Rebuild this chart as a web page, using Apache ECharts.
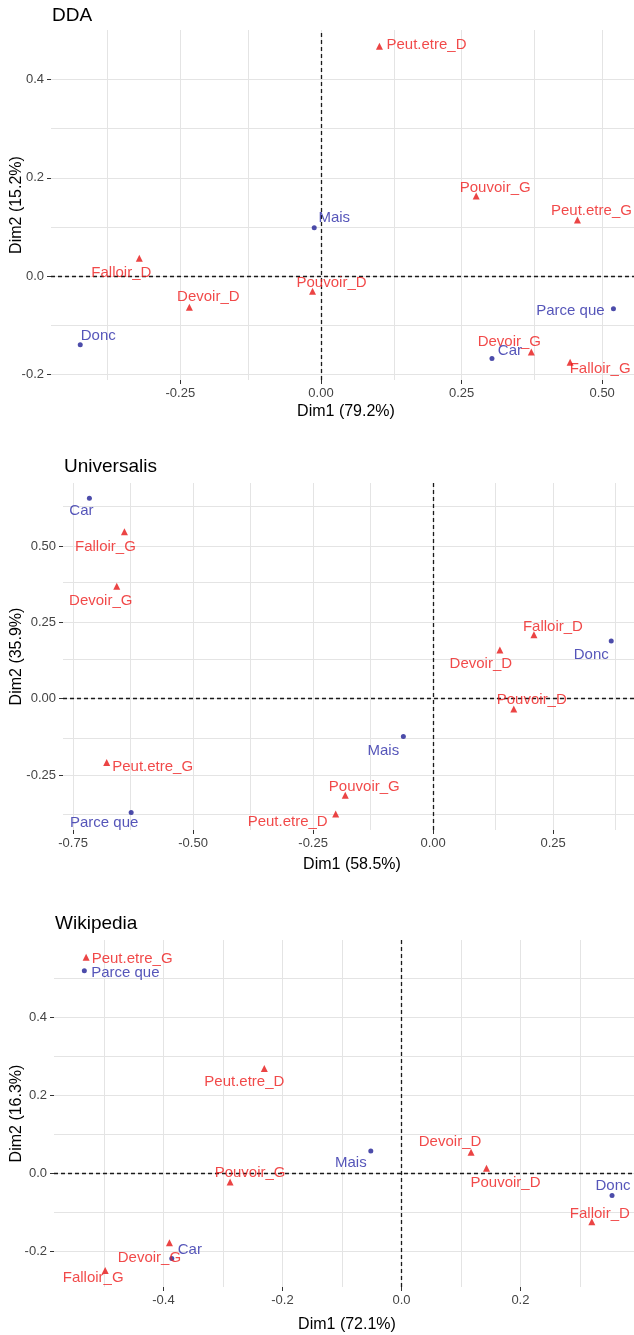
<!DOCTYPE html>
<html><head><meta charset="utf-8">
<script src="https://cdn.jsdelivr.net/npm/echarts@6/dist/echarts.min.js"></script>
<style>html,body{margin:0;padding:0;overflow:hidden;background:#fff;}#c{width:641px;height:1335px;}</style>
</head><body><div id="c"></div>
<script>
// ---------- DDA ----------
const ddaRowNames = ['Car', 'Donc', 'Mais', 'Parce que'];
const ddaRowX = [0.304, -0.428, -0.012, 0.520];
const ddaRowY = [-0.168, -0.140, 0.098, -0.067];
const ddaColNames = ['Devoir_D', 'Devoir_G', 'Falloir_D', 'Falloir_G', 'Peut.etre_D', 'Peut.etre_G', 'Pouvoir_D', 'Pouvoir_G'];
const ddaColX = [-0.234, 0.374, -0.323, 0.443, 0.104, 0.456, -0.015, 0.276];
const ddaColY = [-0.064, -0.155, 0.036, -0.176, 0.468, 0.114, -0.031, 0.163];
const ddaXTicks = [-0.25, 0, 0.25, 0.5];
const ddaXTickLabels = ['-0.25', '0.00', '0.25', '0.50'];
const ddaXMinor = [-0.375, -0.125, 0.125, 0.375];
const ddaYTicks = [-0.2, 0, 0.2, 0.4];
const ddaYTickLabels = ['-0.2', '0.0', '0.2', '0.4'];
const ddaYMinor = [-0.1, 0.1, 0.3];

// ---------- Universalis ----------
const uniRowNames = ['Car', 'Donc', 'Mais', 'Parce que'];
const uniRowX = [-0.716, 0.371, -0.062, -0.629];
const uniRowY = [0.656, 0.189, -0.124, -0.373];
const uniColNames = ['Devoir_D', 'Devoir_G', 'Falloir_D', 'Falloir_G', 'Peut.etre_D', 'Peut.etre_G', 'Pouvoir_D', 'Pouvoir_G'];
const uniColX = [0.139, -0.659, 0.210, -0.643, -0.203, -0.680, 0.168, -0.183];
const uniColY = [0.159, 0.368, 0.209, 0.546, -0.378, -0.209, -0.034, -0.316];
const uniXTicks = [-0.75, -0.5, -0.25, 0, 0.25];
const uniXTickLabels = ['-0.75', '-0.50', '-0.25', '0.00', '0.25'];
const uniXMinor = [-0.625, -0.375, -0.125, 0.125, 0.375];
const uniYTicks = [-0.25, 0, 0.25, 0.5];
const uniYTickLabels = ['-0.25', '0.00', '0.25', '0.50'];
const uniYMinor = [-0.375, -0.125, 0.125, 0.375, 0.625];

// ---------- Wikipedia ----------
const wikRowNames = ['Car', 'Donc', 'Mais', 'Parce que'];
const wikRowX = [-0.386, 0.354, -0.0515, -0.533];
const wikRowY = [-0.218, -0.057, 0.057, 0.518];
const wikColNames = ['Devoir_D', 'Devoir_G', 'Falloir_D', 'Falloir_G', 'Peut.etre_D', 'Peut.etre_G', 'Pouvoir_D', 'Pouvoir_G'];
const wikColX = [0.117, -0.390, 0.320, -0.498, -0.2305, -0.530, 0.143, -0.288];
const wikColY = [0.054, -0.178, -0.124, -0.249, 0.268, 0.553, 0.0126, -0.022];
const wikXTicks = [-0.4, -0.2, 0, 0.2];
const wikXTickLabels = ['-0.4', '-0.2', '0.0', '0.2'];
const wikXMinor = [-0.5, -0.3, -0.1, 0.1, 0.3];
const wikYTicks = [-0.2, 0, 0.2, 0.4];
const wikYTickLabels = ['-0.2', '0.0', '0.2', '0.4'];
const wikYMinor = [-0.1, 0.1, 0.3, 0.5];

// ---------- label placement (pixel offsets of label centre from mark) ----------
const ddaLabelOffsets = {
  'Car': [18, -8], 'Donc': [18, -9], 'Mais': [20, -10], 'Parce que': [-43, 2],
  'Devoir_D': [19, -10], 'Devoir_G': [-22, -10], 'Falloir_D': [-18, 15], 'Falloir_G': [30, 7],
  'Peut.etre_D': [47, -1], 'Peut.etre_G': [14, -9], 'Pouvoir_D': [19, -8], 'Pouvoir_G': [19, -8]
};
const uniLabelOffsets = {
  'Car': [-8, 13], 'Donc': [-20, 14], 'Mais': [-20, 14], 'Parce que': [-27, 10],
  'Devoir_D': [-19, 14], 'Devoir_G': [-16, 15], 'Falloir_D': [19, -8], 'Falloir_G': [-19, 15],
  'Peut.etre_D': [-48, 8], 'Peut.etre_G': [46, 4], 'Pouvoir_D': [18, -9], 'Pouvoir_G': [19, -8]
};
const wikLabelOffsets = {
  'Car': [18, -9], 'Donc': [1, -10], 'Mais': [-20, 12], 'Parce que': [41, 2],
  'Devoir_D': [-21, -10], 'Devoir_G': [-20, 15], 'Falloir_D': [8, -8], 'Falloir_G': [-12, 7],
  'Peut.etre_D': [-20, 13], 'Peut.etre_G': [46, 2], 'Pouvoir_D': [19, 14], 'Pouvoir_G': [20, -9]
};

const FONT = '"Liberation Sans", Arial, sans-serif';
const BLUE_DOT = '#1f1f95', BLUE_TXT = '#2a2aa8';
const RED_DOT = '#e61515', RED_TXT = '#ee1c1c';

const panels = [
  { title: 'DDA', titleTop: 6, grid: { left: 51, top: 30, width: 590, height: 350 },
    xr: [-0.48, 0.569], yr: [-0.212, 0.501], xName: 'Dim1 (79.2%)', yName: 'Dim2 (15.2%)',
    xGap: 24, yGap: 26,
    xT: ddaXTicks, xTL: ddaXTickLabels, xM: ddaXMinor, yT: ddaYTicks, yTL: ddaYTickLabels, yM: ddaYMinor,
    rn: ddaRowNames, rx: ddaRowX, ry: ddaRowY, cn: ddaColNames, cx: ddaColX, cy: ddaColY, off: ddaLabelOffsets },
  { title: 'Universalis', titleTop: 457, grid: { left: 63, top: 483, width: 578, height: 347 },
    xr: [-0.771, 0.433], yr: [-0.43, 0.706], xName: 'Dim1 (58.5%)', yName: 'Dim2 (35.9%)',
    xGap: 27, yGap: 38,
    xT: uniXTicks, xTL: uniXTickLabels, xM: uniXMinor, yT: uniYTicks, yTL: uniYTickLabels, yM: uniYMinor,
    rn: uniRowNames, rx: uniRowX, ry: uniRowY, cn: uniColNames, cx: uniColX, cy: uniColY, off: uniLabelOffsets },
  { title: 'Wikipedia', titleTop: 914, grid: { left: 54, top: 940, width: 586, height: 347 },
    xr: [-0.584, 0.401], yr: [-0.291, 0.597], xName: 'Dim1 (72.1%)', yName: 'Dim2 (16.3%)',
    xGap: 30, yGap: 29,
    xT: wikXTicks, xTL: wikXTickLabels, xM: wikXMinor, yT: wikYTicks, yTL: wikYTickLabels, yM: wikYMinor,
    rn: wikRowNames, rx: wikRowX, ry: wikRowY, cn: wikColNames, cx: wikColX, cy: wikColY, off: wikLabelOffsets }
];

function lookup(ticks, labels) {
  return function (v) {
    for (let i = 0; i < ticks.length; i++) if (Math.abs(ticks[i] - v) < 1e-9) return labels[i];
    return '';
  };
}

const option = { animation: false, title: [], grid: [], xAxis: [], yAxis: [], series: [] };

panels.forEach(function (p, i) {
  option.title.push({ text: p.title, left: p.grid.left + 1, top: p.titleTop, padding: 0,
    textStyle: { fontFamily: FONT, fontSize: 19, fontWeight: 'normal', color: '#000' } });
  option.grid.push(Object.assign({ containLabel: false, outerBoundsMode: 'none' }, p.grid));
  const tickStyle = { show: true, length: 4, lineStyle: { color: '#333', width: 1 } };
  option.xAxis.push({ type: 'value', gridIndex: i, min: p.xr[0], max: p.xr[1],
    axisLine: { show: false, onZero: false },
    axisTick: Object.assign({ customValues: p.xT }, tickStyle),
    axisLabel: { customValues: p.xT, formatter: lookup(p.xT, p.xTL), color: '#444', fontSize: 13, fontFamily: FONT, margin: 7 },
    splitLine: { show: false },
    name: p.xName, nameLocation: 'middle', nameGap: p.xGap,
    nameTextStyle: { color: '#000', fontSize: 16, fontFamily: FONT } });
  option.yAxis.push({ type: 'value', gridIndex: i, min: p.yr[0], max: p.yr[1],
    axisLine: { show: false, onZero: false },
    axisTick: Object.assign({ customValues: p.yT }, tickStyle),
    axisLabel: { customValues: p.yT, formatter: lookup(p.yT, p.yTL), color: '#444', fontSize: 13, fontFamily: FONT, margin: 7 },
    splitLine: { show: false },
    name: p.yName, nameLocation: 'middle', nameGap: p.yGap, nameMoveOverlap: false,
    nameTextStyle: { color: '#000', fontSize: 16, fontFamily: FONT } });

  // grid lines
  const gl = [];
  p.xT.concat(p.xM).forEach(function (v) { gl.push({ xAxis: v }); });
  p.yT.concat(p.yM).forEach(function (v) { gl.push({ yAxis: v }); });
  option.series.push({ type: 'scatter', xAxisIndex: i, yAxisIndex: i, data: [], z: 1, silent: true,
    markLine: { silent: true, symbol: ['none', 'none'], label: { show: false }, animation: false,
      lineStyle: { color: '#e4e4e4', width: 1, type: 'solid' }, emphasis: { disabled: true }, data: gl } });
  // dashed reference lines at zero
  option.series.push({ type: 'scatter', xAxisIndex: i, yAxisIndex: i, data: [], z: 2, silent: true,
    markLine: { silent: true, symbol: ['none', 'none'], label: { show: false }, animation: false,
      lineStyle: { color: '#1a1a1a', width: 1.3, type: [4, 3] }, emphasis: { disabled: true },
      data: [{ xAxis: 0 }, { yAxis: 0 }] } });

  function pts(names, xs, ys, symbol, size, dot, txt) {
    return { type: 'scatter', xAxisIndex: i, yAxisIndex: i, symbol: symbol, symbolSize: size, z: 5, silent: true,
      itemStyle: { color: dot }, emphasis: { disabled: true },
      label: { show: true, position: 'inside', formatter: '{b}', color: txt, fontSize: 15, fontFamily: FONT },
      data: names.map(function (n, j) {
        return { name: n, value: [xs[j], ys[j]], label: { offset: p.off[n] || [0, 0] } };
      }) };
  }
  option.series.push(pts(p.cn, p.cx, p.cy, 'triangle', 7, RED_DOT, RED_TXT));
  option.series.push(pts(p.rn, p.rx, p.ry, 'circle', 5, BLUE_DOT, BLUE_TXT));
});

const chart = echarts.init(document.getElementById('c'), null, { renderer: 'canvas' });
chart.setOption(option);
</script>
</body></html>
